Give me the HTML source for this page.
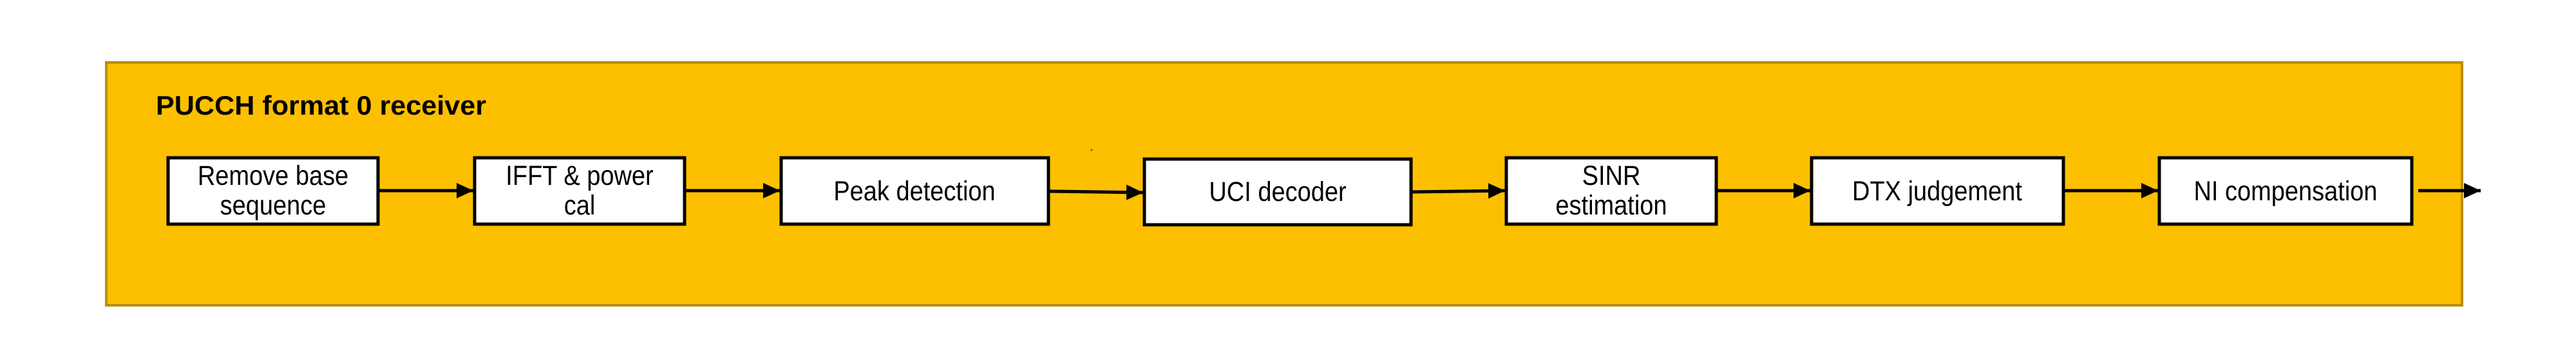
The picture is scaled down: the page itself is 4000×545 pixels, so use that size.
<!DOCTYPE html>
<html><head><meta charset="utf-8"><style>
html,body{margin:0;padding:0;background:#fff;}
svg{display:block;}
text{font-family:"Liberation Sans",sans-serif;fill:#000;}
</style></head><body>
<svg width="4000" height="545" viewBox="0 0 4000 545" xmlns="http://www.w3.org/2000/svg">
<defs>
<marker id="ah" markerWidth="26" markerHeight="24" refX="26" refY="12" orient="auto" markerUnits="userSpaceOnUse">
<path d="M0,0 L26,12 L0,24 Z" fill="#000"/>
</marker>
</defs>
<rect x="165" y="97" width="3658" height="377" fill="#fcc000" stroke="#b88f10" stroke-width="4"/>
<text transform="translate(242,178) scale(1,1.2)" x="0" y="0" font-size="35" font-weight="bold" textLength="513" lengthAdjust="spacingAndGlyphs">PUCCH format 0 receiver</text>
<g fill="#fff" stroke="#000" stroke-width="5">
<rect x="261" y="245" width="326" height="103"/>
<rect x="737" y="245" width="326" height="103"/>
<rect x="1213" y="245" width="415" height="103"/>
<rect x="1777" y="247" width="414" height="102"/>
<rect x="2339" y="245" width="326" height="103"/>
<rect x="2813" y="245" width="391" height="103"/>
<rect x="3353" y="245" width="392" height="103"/>
</g>
<g stroke="#000" stroke-width="5" marker-end="url(#ah)" fill="none">
<line x1="588" y1="296" x2="735" y2="296"/>
<line x1="1064" y1="296" x2="1211" y2="296"/>
<line x1="1630" y1="297" x2="1775" y2="299"/>
<line x1="2193" y1="298" x2="2337" y2="296"/>
<line x1="2666" y1="296" x2="2811" y2="296"/>
<line x1="3205" y1="296" x2="3351" y2="296"/>
<line x1="3755" y1="296" x2="3852" y2="296"/>
</g>
<circle cx="1695" cy="233" r="1.5" fill="#556"/>
<g font-size="38" text-anchor="middle">
<text transform="translate(424,287) scale(1,1.12)">Remove base</text>
<text transform="translate(424,333) scale(1,1.12)">sequence</text>
<text transform="translate(900,287) scale(1,1.12)">IFFT &amp; power</text>
<text transform="translate(900,333) scale(1,1.12)">cal</text>
<text transform="translate(1420,311) scale(1,1.12)">Peak detection</text>
<text transform="translate(1984,312) scale(1,1.12)">UCI decoder</text>
<text transform="translate(2502,287) scale(1,1.12)">SINR</text>
<text transform="translate(2502,333) scale(1,1.12)">estimation</text>
<text transform="translate(3008,311) scale(1,1.12)">DTX judgement</text>
<text transform="translate(3549,311) scale(1,1.12)">NI compensation</text>
</g>
</svg>
</body></html>
